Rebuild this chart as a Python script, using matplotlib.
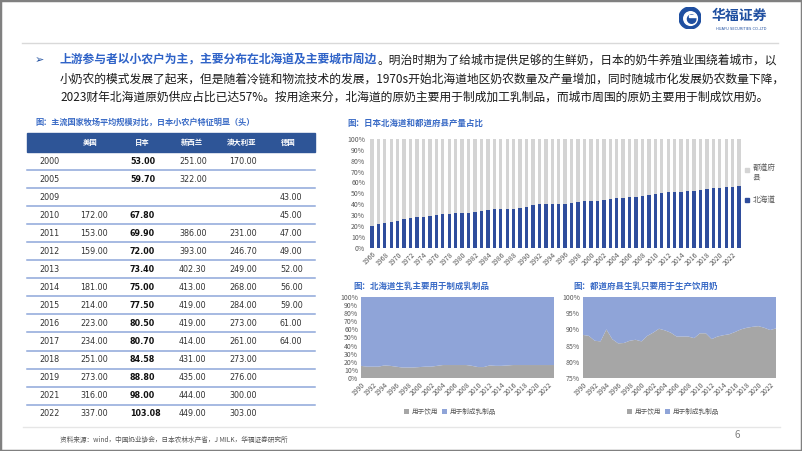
import matplotlib
matplotlib.use('Agg')
import matplotlib.pyplot as plt
from matplotlib.patches import Rectangle, Circle
from matplotlib.lines import Line2D

plt.rcParams['font.family'] = ['Noto Sans CJK SC', 'DejaVu Sans']

# ---- data ----
table_cols = ['美国', '日本', '新西兰', '澳大利亚', '德国']
table_years = ['2000', '2005', '2009', '2010', '2011', '2012', '2013', '2014',
               '2015', '2016', '2017', '2018', '2019', '2021', '2022']
usa = ['', '', '', '172.00', '153.00', '159.00', '', '181.00', '214.00', '223.00',
       '234.00', '251.00', '273.00', '316.00', '337.00']
japan = ['53.00', '59.70', '', '67.80', '69.90', '72.00', '73.40', '75.00', '77.50',
         '80.50', '80.70', '84.58', '88.80', '98.00', '103.08']
nz = ['251.00', '322.00', '', '', '386.00', '393.00', '402.30', '413.00', '419.00',
      '419.00', '414.00', '431.00', '435.00', '444.00', '449.00']
aus = ['170.00', '', '', '', '231.00', '246.70', '249.00', '268.00', '284.00',
       '273.00', '261.00', '273.00', '276.00', '300.00', '303.00']
ger = ['', '', '43.00', '45.00', '47.00', '49.00', '52.00', '56.00', '59.00',
       '61.00', '64.00', '', '', '', '']

share_years = list(range(1966, 2024))
hokkaido_share = [20.2, 21.5, 22.7, 23.6, 25.0, 26.4, 27.3, 28.0, 28.5, 29.1,
                  30.0, 30.7, 31.0, 32.0, 32.2, 32.2, 33.1, 33.7, 34.7, 35.3,
                  35.6, 35.6, 35.9, 36.8, 37.1, 39.0, 39.9, 39.9, 40.2, 40.5,
                  40.5, 40.8, 42.0, 42.6, 43.0, 43.0, 43.9, 45.1, 45.4, 46.0,
                  46.3, 46.3, 47.5, 48.8, 49.4, 50.6, 51.2, 51.2, 51.5, 52.1,
                  52.5, 53.0, 53.7, 54.6, 55.2, 55.8, 56.1, 56.4]

use_years = list(range(1990, 2024))
hk_drink = [15, 14, 14, 14, 15.5, 15, 14, 13, 13, 13, 13.5, 14, 14, 15, 16, 16, 16,
            16, 16, 15, 13.5, 13.5, 15.5, 15, 15, 15.5, 16, 16, 16, 16, 16, 16, 16, 16]
pref_drink = [88.3, 88.0, 86.5, 86.3, 90.0, 87.0, 85.7, 85.8, 86.5, 86.8, 86.3, 88.0,
              89.0, 90.2, 89.7, 89.0, 87.8, 87.8, 87.8, 87.3, 88.8, 88.8, 87.0, 87.8,
              88.2, 88.5, 89.2, 90.0, 90.5, 90.8, 91.0, 90.5, 89.8, 90.3]

BLUE_DARK = '#2F4D9C'
BLUE_AREA = '#8FA4D8'
GRAY_BAR = '#D4D4D4'
GRAY_AREA = '#A6A6A6'
TITLE_BLUE = '#3A6BC6'
TICK_C = '#595959'

W, H = 802, 451
fig = plt.figure(figsize=(8.02, 4.51), dpi=100)


def fx(x):
    return x / W


def fy(y):
    return 1 - y / H


def axes_px(x0, y0, x1, y1):
    return fig.add_axes([fx(x0), fy(y1), (x1 - x0) / W, (y1 - y0) / H])


def hline(x0, x1, y, color, lw=1.0):
    fig.add_artist(Line2D([fx(x0), fx(x1)], [fy(y), fy(y)], color=color, lw=lw,
                          transform=fig.transFigure))


# slide border
fig.patches.append(Rectangle((0, 0), 1, 1, transform=fig.transFigure, fill=False,
                             ec='#808080', lw=2.5))

# logo
ax_logo = axes_px(679, 7, 701, 29)
ax_logo.set_xlim(-1, 1)
ax_logo.set_ylim(-1, 1)
ax_logo.set_aspect('equal')
ax_logo.axis('off')
ax_logo.add_patch(Circle((0, 0), 1.0, color='#1F4FA0'))
ax_logo.add_patch(Circle((0.05, -0.05), 0.62, color='white'))
ax_logo.add_patch(Circle((0.15, -0.1), 0.38, color='#1F4FA0'))
ax_logo.add_patch(Rectangle((-0.1, 0.05), 0.6, 0.25, color='white'))
fig.text(fx(712), fy(16), '华福证券', fontsize=10, color='#1F4FA0',
         fontweight='bold', va='center', ha='left')
fig.text(fx(741), fy(28.5), 'HUAFU SECURITIES CO.,LTD', fontsize=2.6, color='#1F4FA0',
         va='center', ha='center', family='DejaVu Sans')

hline(22, 778, 43, '#D9D9D9', 1.0)

# bullet text
fig.text(fx(35), fy(60), '➢', fontsize=8, color='#1F4FA0', va='center',
         family='DejaVu Sans')
fs_body = 8.5
renderer = fig.canvas.get_renderer()
t1 = fig.text(fx(60), fy(60), '上游参与者以小农户为主，主要分布在北海道及主要城市周边',
              fontsize=fs_body, color='#2F63C8', fontweight='bold', va='center')
bb = t1.get_window_extent(renderer)
fig.text(bb.x1 / W, fy(60), '。明治时期为了给城市提供足够的生鲜奶，日本的奶牛养殖业围绕着城市，以',
         fontsize=fs_body, color='#1A1A1A', va='center')
fig.text(fx(60), fy(79), '小奶农的模式发展了起来，但是随着冷链和物流技术的发展，1970s开始北海道地区奶农数量及产量增加，同时随城市化发展奶农数量下降，',
         fontsize=fs_body, color='#1A1A1A', va='center')
fig.text(fx(60), fy(97), '2023财年北海道原奶供应占比已达57%。按用途来分，北海道的原奶主要用于制成加工乳制品，而城市周围的原奶主要用于制成饮用奶。',
         fontsize=fs_body, color='#1A1A1A', va='center')

# ---- table ----
fig.text(fx(35), fy(122), '图：主流国家牧场平均规模对比，日本小农户特征明显（头）',
         fontsize=5.9, color=TITLE_BLUE, fontweight='bold', va='center')
fig.patches.append(Rectangle((fx(27), fy(152)), (315 - 27) / W, 19 / H,
                             transform=fig.transFigure, color='#2E5597'))
head_x = [90, 142, 192, 242, 288]
for name, x in zip(table_cols, head_x):
    fig.text(fx(x), fy(142.5), name, fontsize=5.3, color='white', ha='center',
             va='center', fontweight='bold')

row_y0, row_step = 161, 18.05
col_x = [80, 130, 179, 229, 280]
for i, yr in enumerate(table_years):
    y = row_y0 + i * row_step
    fig.text(fx(39), fy(y), yr, fontsize=5.8, color='#333333', va='center',
             family='DejaVu Sans')
    for j, col in enumerate([usa, japan, nz, aus, ger]):
        if col[i]:
            bold = j == 1
            fig.text(fx(col_x[j]), fy(y), col[i], fontsize=5.8,
                     color='#111111' if bold else '#333333', va='center',
                     fontweight='bold' if bold else 'normal', family='DejaVu Sans')
    if i < len(table_years) - 1:
        hline(27, 315, y + row_step / 2, '#8EA7DA', 1.1)

hline(23, 780, 426.5, '#E6E6E6', 1.0)
fig.text(fx(174), fy(440), '资料来源：wind，中国奶业协会，日本农林水产省，J MILK，华福证券研究所',
         fontsize=4.8, color='#555555', ha='center', va='center')
fig.text(fx(737), fy(435), '6', fontsize=7, color='#7F7F7F', ha='center', va='center')

# ---- top right: Hokkaido share bars ----
fig.text(fx(347), fy(123), '图：日本北海道和都道府县产量占比', fontsize=6.1,
         color=TITLE_BLUE, fontweight='bold', va='center')
ax1 = axes_px(368, 139, 743, 247.7)
xs = list(range(len(share_years)))
rest = [100 - v for v in hokkaido_share]
ax1.bar(xs, hokkaido_share, width=0.52, color=BLUE_DARK)
ax1.bar(xs, rest, bottom=hokkaido_share, width=0.52, color=GRAY_BAR)
ax1.set_xlim(-0.6, len(xs) - 0.4)
ax1.set_ylim(0, 100)
ax1.set_yticks(range(0, 101, 10))
ax1.set_yticklabels([f'{v}%' for v in range(0, 101, 10)])
ax1.set_xticks(xs[::2])
ax1.set_xticklabels([str(y) for y in share_years[::2]], rotation=45, ha='right',
                    rotation_mode='anchor')
ax1.tick_params(length=0, labelsize=5, colors=TICK_C, pad=2)
for s in ax1.spines.values():
    s.set_visible(False)

fig.patches.append(Rectangle((fx(745), fy(172)), 4 / W, 4 / H,
                             transform=fig.transFigure, color=GRAY_BAR))
fig.text(fx(753), fy(168), '都道府', fontsize=5.5, color=TICK_C, va='center')
fig.text(fx(753), fy(178), '县', fontsize=5.5, color=TICK_C, va='center')
fig.patches.append(Rectangle((fx(745), fy(202)), 4 / W, 4 / H,
                             transform=fig.transFigure, color=BLUE_DARK))
fig.text(fx(753), fy(200), '北海道', fontsize=5.5, color=TICK_C, va='center')


# ---- bottom area charts ----
def area_chart(x0, x1, title, title_x, drink, ymin, yticks, legend_cx):
    fig.text(fx(title_x), fy(286), title, fontsize=6.1, color=TITLE_BLUE,
             fontweight='bold', va='center')
    ax = axes_px(x0, 297, x1, 378)
    other = [100 - v for v in drink]
    ax.stackplot(use_years, drink, other, colors=[GRAY_AREA, BLUE_AREA],
                 labels=['用于饮用', '用于制成乳制品'], lw=0)
    ax.set_xlim(use_years[0], use_years[-1])
    ax.set_ylim(ymin, 100)
    ax.set_yticks(yticks)
    ax.set_yticklabels([f'{v}%' for v in yticks])
    ax.set_xticks(use_years[::2])
    ax.set_xticklabels([str(y) for y in use_years[::2]], rotation=45, ha='right',
                       rotation_mode='anchor')
    ax.tick_params(length=0, labelsize=5, colors=TICK_C, pad=2)
    for s in ax.spines.values():
        s.set_visible(False)
    ax.legend(loc='center', bbox_to_anchor=(fx(legend_cx), fy(412)),
              bbox_transform=fig.transFigure, ncol=2, frameon=False, fontsize=4.8,
              handlelength=0.7, handleheight=0.7, handletextpad=0.4,
              columnspacing=0.6, labelcolor=TICK_C)
    return ax


area_chart(361, 554, '图：北海道生乳主要用于制成乳制品', 353, hk_drink, 0,
           list(range(0, 101, 10)), 450)
area_chart(583, 776, '图：都道府县生乳只要用于生产饮用奶', 573, pref_drink, 75,
           [75, 80, 85, 90, 95, 100], 673)

fig.savefig('out.png', dpi=100)
